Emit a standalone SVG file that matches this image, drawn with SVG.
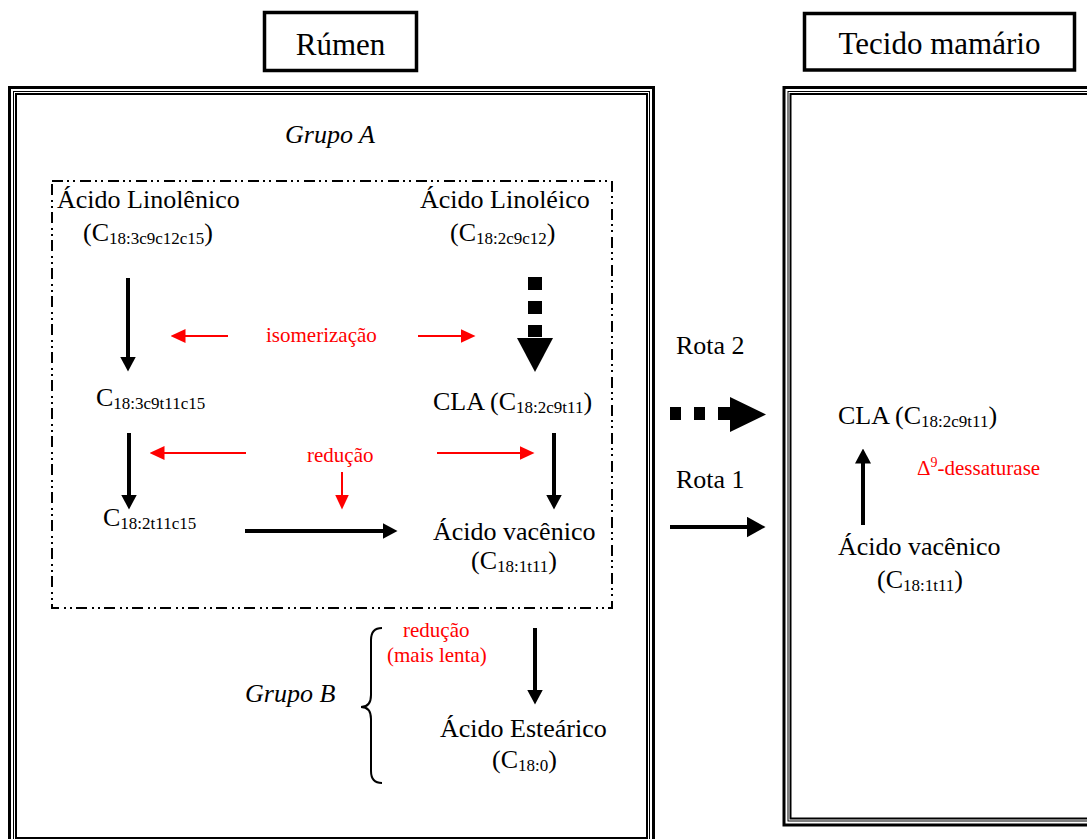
<svg xmlns="http://www.w3.org/2000/svg" width="1087" height="839" viewBox="0 0 1087 839">
<style>
text{font-family:"Liberation Serif","Times New Roman",serif;fill:#000}
.t{font-size:26px}
.h{font-size:31px}
.i{font-size:26px;font-style:italic}
.r{font-size:21px;fill:#ff0000}
.s{font-size:17px}
.box{fill:none;stroke:#000}
.blk{stroke:#000;stroke-width:4;fill:none}
.red{stroke:#ff0000;stroke-width:2;fill:none}
</style>
<defs>
<marker id="ab" viewBox="0 0 15 16" markerWidth="15" markerHeight="16" refX="0.5" refY="8" orient="auto" markerUnits="userSpaceOnUse"><path d="M0,0 L15,8 L0,16 z" fill="#000"/></marker>
<marker id="abig" viewBox="0 0 19 21" markerWidth="19" markerHeight="21" refX="0.5" refY="10.5" orient="auto" markerUnits="userSpaceOnUse"><path d="M0,0 L19,10.5 L0,21 z" fill="#000"/></marker>
<marker id="ar" viewBox="0 0 15 14" markerWidth="15" markerHeight="14" refX="0.5" refY="7" orient="auto" markerUnits="userSpaceOnUse"><path d="M0,0 L15,7 L0,14 z" fill="#ff0000"/></marker>
</defs>
<rect width="1087" height="839" fill="#fff"/>

<g id="frame-rumen">
<rect class="box" x="9.5" y="87.5" width="644" height="760" stroke-width="3"/>
<rect class="box" x="13.5" y="91.5" width="636" height="752" stroke-width="1"/>
<rect class="box" x="16" y="94" width="631" height="744" stroke-width="2"/>
</g>
<g id="frame-tecido">
<rect class="box" x="784" y="87.5" width="320" height="737.5" stroke-width="3"/>
<rect class="box" x="788" y="91.5" width="312" height="729.5" stroke-width="1"/>
<rect class="box" x="790.5" y="94" width="307" height="724.5" stroke-width="2"/>
</g>
<g id="title-rumen">
<rect class="box" x="264.5" y="12.5" width="152" height="58" stroke-width="3.5"/>
<text class="h" x="340.5" y="55" text-anchor="middle">Rúmen</text>
</g>
<g id="title-tecido">
<rect class="box" x="804.5" y="13.5" width="270" height="56.5" stroke-width="3.5"/>
<text class="h" x="939.5" y="54" text-anchor="middle">Tecido mamário</text>
</g>
<g id="grupo-a">
<rect class="box" x="52" y="181" width="560" height="427" stroke-width="2" stroke-dasharray="11 4 2 4 2 5"/>
<text class="i" x="285" y="143">Grupo A</text>
</g>
<g id="linolenico">
<text class="t" x="57" y="208">Ácido Linolênico</text>
<text class="t" x="83" y="241">(C<tspan class="s" dy="3">18:3c9c12c15</tspan><tspan dy="-3">)</tspan></text>
</g>
<g id="linoleico">
<text class="t" x="420" y="208">Ácido Linoléico</text>
<text class="t" x="450" y="241">(C<tspan class="s" dy="3">18:2c9c12</tspan><tspan dy="-3">)</tspan></text>
</g>
<g id="c183c9t11c15">
<text class="t" x="96" y="406">C<tspan class="s" dy="3">18:3c9t11c15</tspan></text>
</g>
<g id="cla-rumen">
<text class="t" x="433" y="410">CLA (C<tspan class="s" dy="3">18:2c9t11</tspan><tspan dy="-3">)</tspan></text>
</g>
<g id="c182t11c15">
<text class="t" x="103" y="526">C<tspan class="s" dy="3">18:2t11c15</tspan></text>
</g>
<g id="vacenico-rumen">
<text class="t" x="433" y="540">Ácido vacênico</text>
<text class="t" x="471" y="569">(C<tspan class="s" dy="3">18:1t11</tspan><tspan dy="-3">)</tspan></text>
</g>
<g id="grupo-b">
<text class="i" x="245" y="702">Grupo B</text>
<path d="M382,628 C375,628 371,632 371,640 L371,695 C371,703 368,707 361,707 C368,707 371,711 371,719 L371,771 C371,779 375,783 382,783" fill="none" stroke="#000" stroke-width="2"/>
</g>
<g id="estearico">
<text class="t" x="440" y="737">Ácido Esteárico</text>
<text class="t" x="492" y="768">(C<tspan class="s" dy="3">18:0</tspan><tspan dy="-3">)</tspan></text>
</g>
<g id="cla-tecido">
<text class="t" x="838" y="424">CLA (C<tspan class="s" dy="3">18:2c9t11</tspan><tspan dy="-3">)</tspan></text>
</g>
<g id="vacenico-tecido">
<text class="t" x="838" y="555">Ácido vacênico</text>
<text class="t" x="877" y="588">(C<tspan class="s" dy="3">18:1t11</tspan><tspan dy="-3">)</tspan></text>
</g>

<g id="connectors">
<line class="blk" x1="128" y1="278" x2="128" y2="357" marker-end="url(#ab)"/>
<line class="blk" x1="129" y1="433" x2="129" y2="495" marker-end="url(#ab)"/>
<line class="blk" x1="554" y1="433" x2="554" y2="495" marker-end="url(#ab)"/>
<line class="blk" x1="245" y1="531" x2="383" y2="531" marker-end="url(#ab)"/>
<line class="blk" x1="535" y1="628" x2="535" y2="690" marker-end="url(#ab)"/>
<line class="blk" x1="863" y1="525" x2="863" y2="463" stroke-width="5" marker-end="url(#ab)"/>
<line class="blk" x1="670" y1="527" x2="747" y2="527" stroke-width="6" marker-end="url(#abig)"/>
<g id="dotted-linoleico" fill="#000">
<rect x="528" y="277" width="14" height="13"/>
<rect x="528" y="301" width="14" height="13"/>
<rect x="528" y="325" width="14" height="12"/>
<polygon points="517,338 553,338 535,372"/>
</g>
<g id="dotted-rota2" fill="#000">
<rect x="670" y="407" width="11" height="13"/>
<rect x="694" y="407" width="11" height="13"/>
<rect x="718" y="407" width="12" height="13"/>
<polygon points="730,397 730,432 766,414.5"/>
</g>
<line class="red" x1="228" y1="336" x2="185" y2="336" marker-end="url(#ar)"/>
<line class="red" x1="418" y1="336" x2="461" y2="336" marker-end="url(#ar)"/>
<line class="red" x1="246" y1="453" x2="164" y2="453" marker-end="url(#ar)"/>
<line class="red" x1="437" y1="453" x2="520" y2="453" marker-end="url(#ar)"/>
<line class="red" x1="342" y1="472" x2="342" y2="495" marker-end="url(#ar)"/>
<text class="r" x="266" y="342">isomerização</text>
<text class="r" x="307" y="462">redução</text>
<text class="r" x="403" y="637">redução</text>
<text class="r" x="387" y="662">(mais lenta)</text>
<text class="r" x="917" y="475">Δ<tspan font-size="14" dy="-8">9</tspan><tspan dy="8">-dessaturase</tspan></text>
<text class="t" x="676" y="354">Rota 2</text>
<text class="t" x="676" y="488">Rota 1</text>
</g>
</svg>
